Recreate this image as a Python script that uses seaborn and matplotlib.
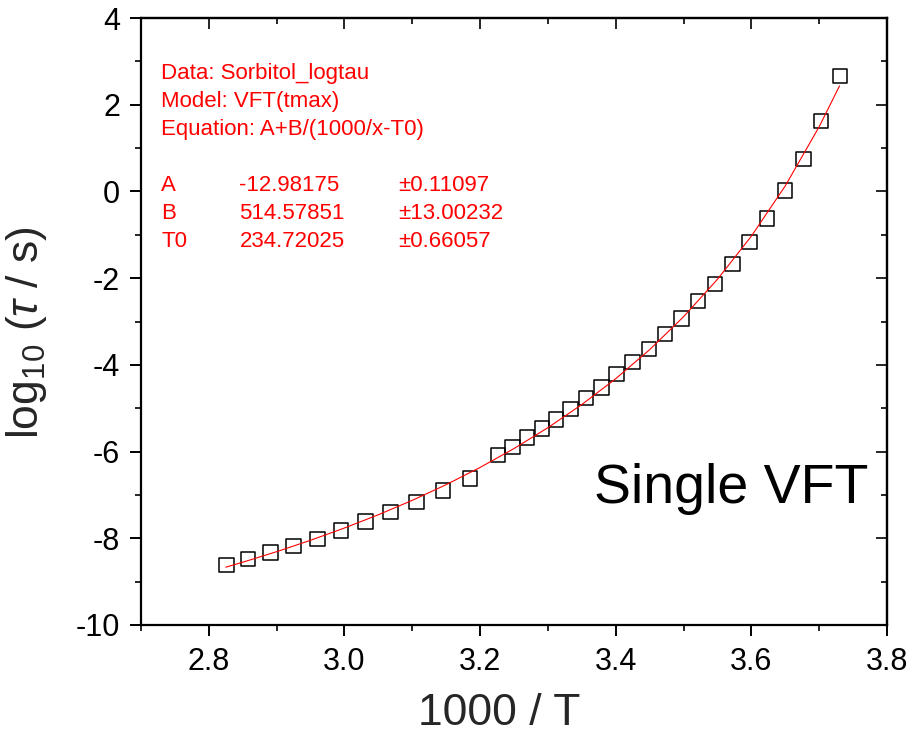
import matplotlib
matplotlib.use("Agg")
import matplotlib.pyplot as plt
from matplotlib.ticker import MultipleLocator, FormatStrFormatter
import seaborn as sns
import pandas as pd

# ---- data ----
inv_T = [2.826, 2.858, 2.891, 2.925, 2.960, 2.995, 3.031, 3.068, 3.106, 3.145,
         3.185, 3.226, 3.248, 3.269, 3.291, 3.312, 3.333, 3.356, 3.379, 3.401,
         3.425, 3.449, 3.473, 3.497, 3.521, 3.546, 3.572, 3.597, 3.623, 3.650,
         3.677, 3.703, 3.731]
log_tau = [-8.62, -8.48, -8.33, -8.18, -8.01, -7.82, -7.61, -7.39, -7.16, -6.90,
           -6.62, -6.08, -5.89, -5.68, -5.47, -5.26, -5.02, -4.77, -4.52, -4.21,
           -3.93, -3.63, -3.29, -2.93, -2.53, -2.13, -1.67, -1.17, -0.62, 0.02,
           0.75, 1.62, 2.66]

# red fit curve (VFT)
fit_x = [2.825, 2.85, 2.90, 2.95, 3.00, 3.05, 3.10, 3.15, 3.20, 3.25, 3.30,
         3.35, 3.40, 3.45, 3.50, 3.55, 3.60, 3.65, 3.70, 3.73]
fit_y = [-8.667, -8.552, -8.309, -8.046, -7.763, -7.457, -7.125, -6.763, -6.366,
         -5.930, -5.449, -4.915, -4.319, -3.650, -2.890, -2.027, -1.032, 0.128,
         1.493, 2.434]

x_ticks = [2.8, 3.0, 3.2, 3.4, 3.6, 3.8]
y_ticks = [-10, -8, -6, -4, -2, 0, 2, 4]

info_lines = ["Data: Sorbitol_logtau", "Model: VFT(tmax)", "Equation: A+B/(1000/x-T0)"]
param_names = ["A", "B", "T0"]
param_values = ["-12.98175", "514.57851", "234.72025"]
param_errors = ["\u00b10.11097", "\u00b113.00232", "\u00b10.66057"]

# ---- style ----
sns.set_style("ticks")
plt.rcParams["font.family"] = ["Liberation Sans", "DejaVu Sans"]
plt.rcParams["axes.unicode_minus"] = False
plt.rcParams["mathtext.fontset"] = "custom"
plt.rcParams["mathtext.rm"] = "Liberation Sans"
plt.rcParams["mathtext.it"] = "Liberation Sans:italic"
plt.rcParams["mathtext.default"] = "regular"

W, H = 914, 735
fig = plt.figure(figsize=(W / 100, H / 100), dpi=100)
L, R, T, B = 141, 887, 18, 625
ax = fig.add_axes([L / W, 1 - B / H, (R - L) / W, (B - T) / H])

df_pts = pd.DataFrame({"x": inv_T, "y": log_tau})
df_fit = pd.DataFrame({"x": fit_x, "y": fit_y})

sns.scatterplot(data=df_pts, x="x", y="y", ax=ax, marker="s", s=108,
                facecolors="none", edgecolor="black", linewidth=1.1, zorder=3)
sns.lineplot(data=df_fit, x="x", y="y", ax=ax, color="#ff0000", linewidth=0.8,
             zorder=4, sort=False)

ax.set_xlim(2.7, 3.8)
ax.set_ylim(-10, 4)
ax.set_xticks(x_ticks)
ax.set_yticks(y_ticks)
ax.xaxis.set_minor_locator(MultipleLocator(0.1))
ax.yaxis.set_minor_locator(MultipleLocator(1))
ax.xaxis.set_major_formatter(FormatStrFormatter("%.1f"))
ax.yaxis.set_major_formatter(FormatStrFormatter("%d"))

for sp in ax.spines.values():
    sp.set_visible(True)
    sp.set_linewidth(1.6)
    sp.set_color("black")

ax.tick_params(which="major", direction="out", length=8, width=1.4,
               labelsize=22, colors="black", top=False, right=False)
ax.tick_params(which="minor", direction="out", length=4, width=1.4,
               top=False, right=False)
ax.tick_params(axis="x", which="major", pad=8)
ax.tick_params(axis="y", which="major", pad=7)

# mirrored inward ticks on top and right
secx = ax.secondary_xaxis("top")
secx.set_xticks(x_ticks)
secx.xaxis.set_minor_locator(MultipleLocator(0.1))
secx.tick_params(which="major", direction="in", length=8, width=1.4, labeltop=False)
secx.tick_params(which="minor", direction="in", length=4, width=1.4)
secx.spines["top"].set_linewidth(1.6)
secy = ax.secondary_yaxis("right")
secy.set_yticks(y_ticks)
secy.yaxis.set_minor_locator(MultipleLocator(1))
secy.tick_params(which="major", direction="in", length=8, width=1.4, labelright=False)
secy.tick_params(which="minor", direction="in", length=4, width=1.4)
secy.spines["right"].set_linewidth(1.6)

ax.set_xlabel("1000 / T", fontsize=32)
ax.xaxis.label.set_va("baseline")
ax.xaxis.set_label_coords((499 - L) / (R - L), (B - 725) / (B - T))
ax.set_ylabel(r"log$_{10}$ ($\mathit{\tau}$ / s)", fontsize=32)
ax.yaxis.label.set_va("baseline")
ax.yaxis.set_label_coords((38 - L) / (R - L), (B - 333) / (B - T))

red = "#ff0000"
fs = 16
for i, line in enumerate(info_lines):
    fig.text(161 / W, 1 - (79 + 28 * i) / H, line, color=red, fontsize=fs, va="baseline")
for i in range(len(param_names)):
    yb = 1 - (191 + 28 * i) / H
    fig.text(161 / W, yb, param_names[i], color=red, fontsize=fs, va="baseline")
    fig.text(239.5 / W, yb, param_values[i], color=red, fontsize=fs, va="baseline")
    fig.text(398 / W, yb, param_errors[i], color=red, fontsize=fs, va="baseline")

fig.text(868 / W, 1 - 503 / H, "Single VFT", fontsize=40, ha="right", va="baseline", color="black")

fig.savefig("out.png", dpi=100, facecolor="white")
